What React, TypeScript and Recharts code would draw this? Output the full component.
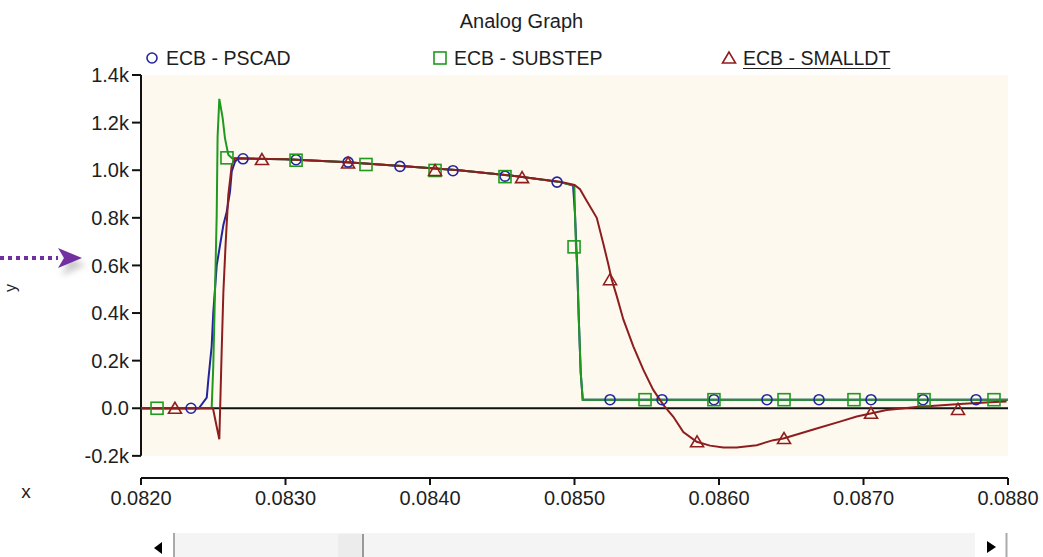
import React from "react";
import {
  ComposedChart, Line, Scatter, XAxis, YAxis, ReferenceLine, ReferenceArea,
} from "recharts";

const FONT = '"Liberation Sans", Arial, sans-serif';
const TEXT = "#1e1e1e";
const PLOT_BG = "#fdf9ee";

const BLUE = "#24249c";
const GREEN = "#1f9a1f";
const RED = "#8e1e1e";

const X_TICKS = [0.082, 0.083, 0.084, 0.085, 0.086, 0.087, 0.088];
const Y_TICKS = [-200, 0, 200, 400, 600, 800, 1000, 1200, 1400];
const Y_LABELS = ["-0.2k", "0.0", "0.2k", "0.4k", "0.6k", "0.8k", "1.0k", "1.2k", "1.4k"];

const SERIES_NAMES = ["ECB - PSCAD", "ECB - SUBSTEP", "ECB - SMALLDT"];

// time (s), value
const PSCAD: [number, number][] = [
  [0.082, 0], [0.0824, 0], [0.082455, 45], [0.082466, 120], [0.082489, 260],
  [0.0825, 400], [0.082524, 600], [0.082547, 685], [0.08257, 770], [0.082593, 825],
  [0.082616, 910], [0.082628, 995], [0.08265, 1035], [0.082673, 1050],
  [0.083, 1046], [0.0834, 1035], [0.0838, 1018], [0.0842, 1000], [0.0846, 975],
  [0.0849, 950], [0.08499, 936], [0.085003, 820], [0.085019, 590], [0.08503, 370],
  [0.085043, 150], [0.085057, 36], [0.088, 36],
];

const SUBSTEP: [number, number][] = [
  [0.082, 0], [0.082489, 0], [0.0825, 175], [0.082512, 487], [0.082524, 815],
  [0.08253, 1140], [0.082542, 1300], [0.082565, 1220], [0.082581, 1135],
  [0.082604, 1065], [0.08263, 1050], [0.083, 1046], [0.0834, 1035], [0.0838, 1018],
  [0.0842, 1000], [0.0846, 975], [0.0849, 950], [0.084999, 936], [0.085003, 830],
  [0.08501, 680], [0.085019, 590], [0.08503, 373], [0.085043, 150], [0.085057, 36],
  [0.088, 36],
];

const SMALLDT: [number, number][] = [
  [0.082, 0], [0.082498, 0], [0.082524, -78], [0.082542, -130], [0.082558, 234],
  [0.08257, 487], [0.082585, 683], [0.082604, 895], [0.082628, 1021], [0.08265, 1050],
  [0.083, 1046], [0.0834, 1035], [0.0838, 1018], [0.0842, 1000], [0.0846, 975],
  [0.0849, 952], [0.085, 938], [0.085038, 920], [0.085084, 872], [0.085154, 800],
  [0.0852, 690], [0.085234, 605], [0.085257, 542], [0.085292, 472], [0.085338, 373],
  [0.085407, 260], [0.085476, 162], [0.085545, 77], [0.085615, 14], [0.085684, -36],
  [0.085753, -100], [0.085846, -141], [0.085938, -157], [0.08603, -165],
  [0.086122, -165], [0.086261, -155], [0.086376, -134], [0.086445, -127],
  [0.086561, -106], [0.086676, -85], [0.086837, -56], [0.086953, -35],
  [0.087057, -21], [0.08716, -7], [0.087368, 5], [0.087668, 18], [0.087875, 25],
  [0.08799, 28],
];

// marker positions
const PSCAD_MARKS: [number, number][] = [
  [0.082346, 0], [0.082706, 1048], [0.083073, 1044], [0.083433, 1034], [0.083792, 1016],
  [0.084159, 998], [0.084519, 975], [0.084879, 950], [0.085246, 36], [0.085606, 36],
  [0.085965, 36], [0.086332, 36], [0.086692, 36], [0.087052, 36], [0.087412, 36],
  [0.087779, 36],
];
const SUBSTEP_MARKS: [number, number][] = [
  [0.082111, 0], [0.082595, 1052], [0.083073, 1042], [0.083557, 1024], [0.084035, 999],
  [0.084519, 973], [0.084997, 678], [0.085488, 36], [0.085965, 36], [0.08645, 36],
  [0.086934, 36], [0.087419, 36], [0.087903, 36],
];
const SMALLDT_MARKS: [number, number][] = [
  [0.082235, 0], [0.082837, 1045], [0.083433, 1030], [0.084035, 999], [0.084637, 969],
  [0.085246, 540], [0.085848, -141], [0.08645, -127], [0.087052, -21], [0.087654, -5],
];

const rows = (pts: [number, number][]) => pts.map(([t, v]) => ({ t, v }));

function CircleMark({ cx, cy }: any) {
  return <circle cx={cx} cy={cy} r={5} fill="none" stroke={BLUE} strokeWidth={1.6} />;
}
function SquareMark({ cx, cy }: any) {
  return <rect x={cx - 6} y={cy - 6} width={12} height={12} fill="none" stroke={GREEN} strokeWidth={1.6} />;
}
function TriangleMark({ cx, cy }: any) {
  return (
    <polygon
      points={`${cx},${cy - 6} ${cx - 6.5},${cy + 5} ${cx + 6.5},${cy + 5}`}
      fill="none"
      stroke={RED}
      strokeWidth={1.6}
    />
  );
}

function LegendRow() {
  const item = (left: number, symbol: React.ReactNode, label: string, underline = false) => (
    <div style={{ position: "absolute", left, top: 45, display: "flex", alignItems: "center", height: 26 }}>
      <svg width={16} height={16} style={{ marginRight: 6 }}>{symbol}</svg>
      <span style={{ fontSize: 19.5, color: TEXT, textDecoration: underline ? "underline" : "none", textUnderlineOffset: 3 }}>
        {label}
      </span>
    </div>
  );
  return (
    <>
      {item(144, <circle cx={8} cy={8} r={5} fill="none" stroke={BLUE} strokeWidth={1.6} />, SERIES_NAMES[0])}
      {item(432, <rect x={2} y={2} width={12} height={12} fill="none" stroke={GREEN} strokeWidth={1.6} />, SERIES_NAMES[1])}
      {item(721, <polygon points="8,2 1.5,13 14.5,13" fill="none" stroke={RED} strokeWidth={1.6} />, SERIES_NAMES[2], true)}
    </>
  );
}

export default function App() {
  return (
    <div style={{ position: "absolute", left: 0, top: 0, width: 1043, height: 557, background: "#fff", fontFamily: FONT, overflow: "hidden" }}>
      <div style={{ position: "absolute", left: 0, width: 1043, top: 10, textAlign: "center", fontSize: 20, color: TEXT }}>
        Analog Graph
      </div>
      <LegendRow />

      <ComposedChart width={1043} height={557} margin={{ top: 75, right: 35, bottom: 49, left: 81 }}>
        <ReferenceArea x1={0.082} x2={0.088} y1={-200} y2={1400} fill={PLOT_BG} fillOpacity={1} stroke="none" />
        <XAxis
          type="number"
          dataKey="t"
          domain={[0.082, 0.088]}
          ticks={X_TICKS}
          allowDataOverflow
          height={30}
          tickSize={7}
          tickMargin={6}
          stroke="#111"
          strokeWidth={2}
          tick={{ fill: TEXT, fontSize: 20, fontFamily: FONT }}
          tickFormatter={(v: number) => v.toFixed(4)}
        />
        <YAxis
          type="number"
          dataKey="v"
          domain={[-293, 1400]}
          ticks={Y_TICKS}
          allowDataOverflow
          width={60}
          axisLine={false}
          tickSize={9}
          tickMargin={3}
          tickLine={{ stroke: "#111", strokeWidth: 2 }}
          tick={{ fill: TEXT, fontSize: 20, fontFamily: FONT }}
          tickFormatter={(v: number) => Y_LABELS[Y_TICKS.indexOf(v)]}
        />
        <ReferenceLine segment={[{ x: 0.082, y: -200 }, { x: 0.082, y: 1400 }]} stroke="#111" strokeWidth={2} />
        <ReferenceLine y={0} stroke="#111" strokeWidth={2} />

        <Line data={rows(PSCAD)} dataKey="v" type="linear" stroke={BLUE} strokeWidth={2} dot={false} isAnimationActive={false} />
        <Line data={rows(SUBSTEP)} dataKey="v" type="linear" stroke={GREEN} strokeWidth={2} dot={false} isAnimationActive={false} />
        <Line data={rows(SMALLDT)} dataKey="v" type="linear" stroke={RED} strokeWidth={2} dot={false} isAnimationActive={false} />

        <Scatter data={rows(PSCAD_MARKS)} dataKey="v" shape={CircleMark} isAnimationActive={false} />
        <Scatter data={rows(SUBSTEP_MARKS)} dataKey="v" shape={SquareMark} isAnimationActive={false} />
        <Scatter data={rows(SMALLDT_MARKS)} dataKey="v" shape={TriangleMark} isAnimationActive={false} />
      </ComposedChart>

      {/* annotation arrow and stray axis letters from the screenshot */}
      <svg style={{ position: "absolute", left: 0, top: 0 }} width={1043} height={557} pointerEvents="none">
        <defs>
          <filter id="sh" x="-50%" y="-50%" width="200%" height="200%">
            <feGaussianBlur stdDeviation="3" />
          </filter>
        </defs>
        <polygon points="61,254 86,265 61,276 67,265" fill="#999" opacity={0.5} filter="url(#sh)" />
        <line x1={0} y1={258} x2={58} y2={258} stroke="#7030a0" strokeWidth={4} strokeDasharray="4 4" />
        <polygon points="58,248 82,258 58,268 64,258" fill="#7030a0" />
        <text x={16} y={292} fontSize={16} fill={TEXT} transform="rotate(-90 16 292)" fontFamily={FONT}>y</text>
        <text x={26} y={498} fontSize={19} fill={TEXT} textAnchor="middle" fontFamily={FONT}>x</text>
      </svg>

      {/* horizontal scroll bar */}
      <div style={{ position: "absolute", left: 173, top: 533, width: 800, height: 24, background: "#f4f4f4", borderLeft: "2px solid #aaa" }} />
      <div style={{ position: "absolute", left: 338, top: 534, width: 24, height: 23, background: "#ececec", borderRight: "2px solid #999" }} />
      <svg style={{ position: "absolute", left: 0, top: 525 }} width={1043} height={32}>
        <polygon points="162,17 154,23 162,29" fill="#000" />
        <polygon points="987,16 996,22 987,28" fill="#000" />
        <line x1={1006.5} y1={8} x2={1006.5} y2={32} stroke="#aaa" strokeWidth={2} />
      </svg>
    </div>
  );
}
